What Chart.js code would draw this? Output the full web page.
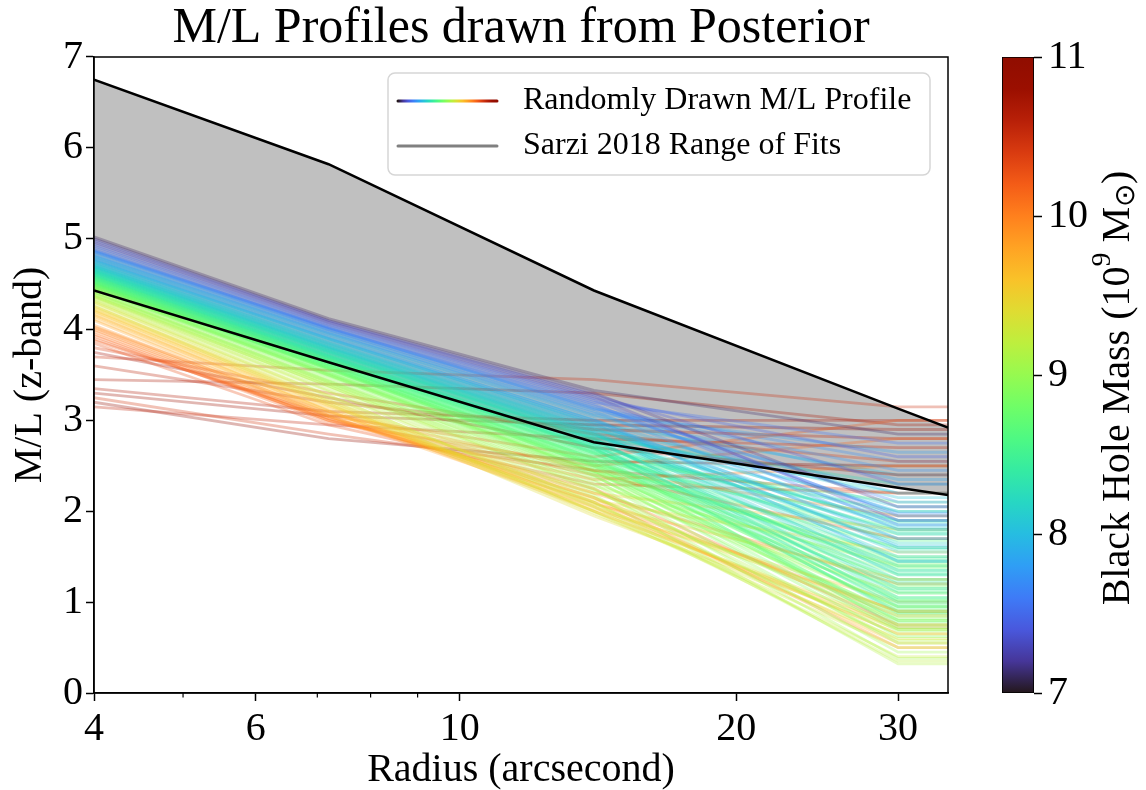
<!DOCTYPE html>
<html>
<head>
<meta charset="utf-8">
<script src="https://cdn.jsdelivr.net/npm/chart.js@4.4.0/dist/chart.umd.min.js"></script>
<style>
  html, body { margin: 0; padding: 0; background: #fff; }
  #wrap { position: relative; width: 1146px; height: 790px; }
  #mainBox { position: absolute; left: 0; top: 0; width: 960px; height: 790px; }
  #barBox { position: absolute; left: 960px; top: 0; width: 186px; height: 790px; }
</style>
</head>
<body>
<div id="wrap">
  <div id="mainBox"><canvas id="mlChart"></canvas></div>
  <div id="barBox"><canvas id="cbarChart"></canvas></div>
</div>
<script>
// radii (arcsec) where every profile is sampled
const radii = [4, 7.2, 14, 30, 34];

// Sarzi 2018 range of fits
const sarziUpper = [6.75, 5.82, 4.43, 3.13, 2.92];
const sarziLower = [4.43, 3.64, 2.76, 2.26, 2.18];

// posterior draws: black hole mass (1e9 Msun) and M/L at 4", 7.2", 14", 30"
// (profiles are flat outside 30")
const drawMass = [
  7.10, 7.20, 7.30, 7.40, 7.45, 7.50, 7.55, 7.60,
  7.65, 7.70, 7.75, 7.80, 7.80, 7.85, 7.90, 7.90, 7.95, 8.00,
  8.05, 8.10, 8.10, 8.15, 8.15, 8.20, 8.20, 8.25, 8.25, 8.30, 8.30, 8.35, 8.35, 8.40,
  8.50, 8.50, 8.55, 8.60, 8.60, 8.65, 8.65, 8.70, 8.70, 8.75, 8.75, 8.80, 8.80, 8.85, 8.90, 8.90,
  9.00, 9.00, 9.05, 9.05, 9.10, 9.10, 9.15, 9.20, 9.20, 9.25, 9.30, 9.30, 9.35, 9.40,
  9.50, 9.50, 9.55, 9.60, 9.60, 9.65, 9.70, 9.70, 9.75, 9.80,
  9.90, 9.95, 10.00, 10.00, 10.05, 10.10, 10.15, 10.20, 10.25, 10.30,
  10.40, 10.45, 10.50, 10.55, 10.60, 10.65, 10.70, 10.75, 10.80, 10.90,
  7.85, 7.95, 8.00, 8.05, 8.10, 8.15, 8.20, 8.25, 8.30, 8.35,
  8.40, 8.45, 8.45, 8.50, 8.55, 8.60, 8.65, 8.70, 8.75, 8.80,
  8.85, 8.90, 8.95, 8.95, 8.20, 8.40, 8.60, 8.80, 8.00, 8.30,
  8.50, 8.70, 8.90, 7.70, 8.10, 8.55, 8.75, 9.05, 9.15, 8.45
];
const mlAt4 = [
  5.02, 5.00, 4.96, 4.98, 4.94, 4.92, 4.90, 4.88,
  4.87, 4.85, 4.86, 4.82, 4.83, 4.78, 4.80, 4.79, 4.76, 4.74,
  4.72, 4.70, 4.71, 4.68, 4.69, 4.66, 4.67, 4.65, 4.66, 4.63, 4.64, 4.62, 4.61, 4.60,
  4.58, 4.57, 4.56, 4.55, 4.54, 4.53, 4.53, 4.52, 4.51, 4.50, 4.50, 4.48, 4.49, 4.46, 4.45, 4.44,
  4.42, 4.41, 4.40, 4.39, 4.38, 4.37, 4.36, 4.34, 4.35, 4.32, 4.30, 4.31, 4.28, 4.26,
  4.24, 4.25, 4.22, 4.20, 4.21, 4.18, 4.15, 4.16, 4.12, 4.10,
  4.05, 4.02, 4.00, 4.03, 3.98, 3.95, 3.93, 3.90, 3.88, 3.85,
  3.80, 3.25, 3.70, 3.15, 3.60, 3.35, 3.45, 3.75, 3.30, 3.20,
  4.81, 4.77, 4.75, 4.73, 4.69, 4.70, 4.68, 4.64, 4.65, 4.63,
  4.61, 4.60, 4.59, 4.58, 4.57, 4.55, 4.54, 4.52, 4.51, 4.49,
  4.47, 4.46, 4.44, 4.45, 4.67, 4.62, 4.56, 4.50, 4.76, 4.64,
  4.59, 4.53, 4.47, 4.86, 4.72, 4.56, 4.50, 4.41, 4.37, 4.60
];
const mlAt7 = [
  4.12, 4.10, 4.08, 4.09, 4.06, 4.05, 4.03, 4.02,
  4.01, 4.00, 4.00, 3.97, 3.98, 3.92, 3.95, 3.94, 3.90, 3.88,
  3.85, 3.82, 3.84, 3.80, 3.81, 3.78, 3.79, 3.76, 3.77, 3.74, 3.75, 3.72, 3.71, 3.70,
  3.68, 3.67, 3.66, 3.64, 3.63, 3.62, 3.61, 3.60, 3.59, 3.58, 3.57, 3.55, 3.56, 3.52, 3.50, 3.49,
  3.45, 3.44, 3.42, 3.41, 3.40, 3.38, 3.36, 3.32, 3.33, 3.28, 3.25, 3.27, 3.22, 3.18,
  3.20, 3.22, 3.18, 3.15, 3.16, 3.12, 3.10, 3.11, 3.08, 3.05,
  3.05, 3.04, 3.02, 3.08, 3.00, 3.00, 2.98, 3.02, 3.05, 2.95,
  3.30, 2.85, 3.55, 2.95, 3.20, 3.10, 3.40, 3.25, 3.05, 2.80,
  3.96, 3.91, 3.89, 3.86, 3.81, 3.83, 3.80, 3.75, 3.77, 3.73,
  3.71, 3.70, 3.69, 3.67, 3.66, 3.64, 3.62, 3.60, 3.58, 3.56,
  3.53, 3.51, 3.48, 3.50, 3.79, 3.72, 3.65, 3.57, 3.90, 3.76,
  3.68, 3.61, 3.52, 4.02, 3.85, 3.65, 3.58, 3.43, 3.38, 3.70
];
const mlAt14 = [
  3.33, 3.30, 3.26, 3.28, 3.24, 3.22, 3.20, 3.18,
  3.16, 3.14, 3.12, 3.10, 3.08, 3.00, 3.05, 3.02, 2.98, 2.95,
  2.92, 2.88, 2.90, 2.85, 2.86, 2.82, 2.84, 2.80, 2.81, 2.76, 2.78, 2.74, 2.72, 2.70,
  2.68, 2.70, 2.65, 2.62, 2.60, 2.58, 2.57, 2.55, 2.54, 2.52, 2.50, 2.48, 2.50, 2.45, 2.42, 2.40,
  2.35, 2.38, 2.30, 2.28, 2.25, 2.22, 2.18, 2.10, 2.15, 2.05, 2.00, 2.08, 1.98, 1.95,
  2.00, 2.12, 2.05, 2.02, 2.20, 2.10, 2.08, 2.00, 2.15, 2.05,
  2.10, 2.15, 2.20, 2.45, 2.35, 2.25, 2.50, 2.40, 2.60, 2.30,
  2.85, 2.45, 3.45, 2.80, 2.90, 3.00, 3.30, 2.70, 2.95, 2.55,
  3.06, 3.00, 2.96, 2.93, 2.87, 2.89, 2.85, 2.79, 2.80, 2.75,
  2.73, 2.71, 2.69, 2.67, 2.66, 2.63, 2.59, 2.56, 2.53, 2.49,
  2.46, 2.43, 2.39, 2.44, 2.83, 2.74, 2.64, 2.51, 2.97, 2.79,
  2.69, 2.58, 2.44, 3.13, 2.91, 2.64, 2.52, 2.33, 2.24, 2.70
];
const mlAt30 = [
  2.85, 2.05, 1.90, 2.30, 2.60, 1.95, 2.75, 1.85,
  2.10, 1.98, 2.45, 1.80, 2.65, 1.70, 2.20, 1.45, 1.60, 1.90,
  1.75, 1.55, 2.05, 1.30, 1.50, 1.85, 1.65, 1.15, 2.30, 1.40, 1.25, 1.00, 1.10, 0.95,
  1.20, 1.80, 0.90, 1.35, 0.98, 0.80, 2.10, 1.05, 1.45, 1.60, 1.30, 0.85, 0.75, 0.70, 1.15, 0.62,
  0.55, 0.95, 0.45, 1.40, 0.38, 1.10, 0.32, 0.35, 0.80, 0.40, 0.50, 0.65, 0.60, 0.70,
  0.75, 1.55, 0.90, 1.00, 1.80, 0.55, 1.25, 0.72, 0.85, 0.65,
  0.90, 0.50, 1.20, 1.95, 2.50, 0.75, 2.80, 1.70, 3.00, 2.20,
  2.55, 2.20, 3.15, 2.70, 2.80, 3.00, 2.95, 2.40, 2.90, 2.50,
  2.35, 2.00, 1.62, 2.15, 1.35, 1.95, 1.45, 1.70, 1.05, 1.58,
  1.22, 1.90, 0.88, 1.48, 1.12, 1.68, 0.92, 1.38, 0.78, 1.02,
  1.25, 0.82, 0.68, 1.50, 2.20, 1.78, 2.00, 1.18, 2.40, 1.88,
  1.02, 1.75, 0.95, 2.55, 1.82, 0.72, 1.42, 0.88, 0.58, 1.32
];

// axis ticks
const xTicks = [4, 5, 6, 7, 8, 9, 10, 20, 30];
const xLabelled = [4, 6, 10, 20, 30];
const yTicks = [0, 1, 2, 3, 4, 5, 6, 7];
const cbarTicks = [7, 8, 9, 10, 11];

const SERIF = "'Liberation Serif', 'Times New Roman', serif";

// turbo colormap (polynomial fit)
function turbo(t) {
  t = Math.min(1, Math.max(0, t));
  const r = 0.13572138 + t * (4.61539260 + t * (-42.66032258 + t * (132.13108234 + t * (-152.94239396 + t * 59.28637943))));
  const g = 0.09140261 + t * (2.19418839 + t * (4.84296658 + t * (-14.18503333 + t * (4.27729857 + t * 2.82956604))));
  const b = 0.10667330 + t * (12.64194608 + t * (-60.58204836 + t * (110.36276771 + t * (-89.90310912 + t * 27.34824973))));
  const c = v => Math.round(255 * Math.min(1, Math.max(0, v)));
  return [c(r), c(g), c(b)];
}
const turboCss = (t, a) => {
  const [r, g, b] = turbo(t);
  return `rgba(${r},${g},${b},${a})`;
};
const massToT = m => (m - cbarTicks[0]) / (cbarTicks[cbarTicks.length - 1] - cbarTicks[0]);

function addTurboStops(grad) {
  for (let i = 0; i <= 20; i++) grad.addColorStop(i / 20, turboCss(i / 20, 1));
  return grad;
}

// ---------- main chart ----------
const profileSets = drawMass.map((m, i) => {
  const ml = [mlAt4[i], mlAt7[i], mlAt14[i], mlAt30[i], mlAt30[i]];
  return {
    data: radii.map((r, k) => ({ x: r, y: ml[k] })),
    borderColor: turboCss(massToT(m), 0.3),
    borderWidth: 2.8,
    pointRadius: 0,
    fill: false,
    order: 1
  };
});

const sarziSets = [
  {
    data: radii.map((r, k) => ({ x: r, y: sarziUpper[k] })),
    borderColor: '#000', borderWidth: 2.5, pointRadius: 0,
    fill: 1, backgroundColor: '#c0c0c0', order: 0
  },
  {
    data: radii.map((r, k) => ({ x: r, y: sarziLower[k] })),
    borderColor: '#000', borderWidth: 2.5, pointRadius: 0,
    fill: false, order: 0
  }
];

// box frame, minor ticks and legend
const framePlugin = {
  id: 'frame',
  afterDraw(chart) {
    const { ctx, chartArea: a, scales } = chart;
    ctx.save();
    ctx.strokeStyle = '#000';
    ctx.lineWidth = 1.5;
    ctx.strokeRect(a.left, a.top, a.right - a.left, a.bottom - a.top);

    // minor ticks on the log axis
    xTicks.filter(v => !xLabelled.includes(v)).forEach(v => {
      const px = scales.x.getPixelForValue(v);
      ctx.beginPath();
      ctx.moveTo(px, a.bottom);
      ctx.lineTo(px, a.bottom + 4.5);
      ctx.lineWidth = 1.2;
      ctx.stroke();
    });

    // legend
    const lx = a.right - 560, ly = a.top + 16, lw = 542, lh = 102;
    ctx.beginPath();
    ctx.roundRect(lx, ly, lw, lh, 7);
    ctx.fillStyle = 'rgba(255,255,255,0.8)';
    ctx.fill();
    ctx.strokeStyle = '#d6d6d6';
    ctx.lineWidth = 1.5;
    ctx.stroke();

    const rows = [
      { y: ly + 28, text: 'Randomly Drawn M/L Profile', grad: true },
      { y: ly + 73, text: 'Sarzi 2018 Range of Fits', grad: false }
    ];
    rows.forEach(row => {
      ctx.beginPath();
      ctx.moveTo(lx + 10, row.y);
      ctx.lineTo(lx + 109, row.y);
      ctx.lineWidth = 3;
      ctx.lineCap = 'round';
      ctx.strokeStyle = row.grad
        ? addTurboStops(ctx.createLinearGradient(lx + 10, 0, lx + 109, 0))
        : '#808080';
      ctx.stroke();
      ctx.fillStyle = '#000';
      ctx.font = `32px ${SERIF}`;
      ctx.textBaseline = 'middle';
      ctx.textAlign = 'left';
      ctx.fillText(row.text, lx + 135, row.y);
    });
    ctx.restore();
  }
};

new Chart(document.getElementById('mlChart'), {
  type: 'line',
  data: { datasets: [...sarziSets, ...profileSets] },
  options: {
    responsive: true,
    maintainAspectRatio: false,
    animation: false,
    layout: { padding: { left: 0, right: 12, top: 0, bottom: 0 } },
    plugins: {
      legend: { display: false },
      tooltip: { enabled: false },
      filler: { drawTime: 'beforeDatasetsDraw' },
      title: {
        display: true,
        fullSize: false,
        text: 'M/L Profiles drawn from Posterior',
        color: '#000',
        font: { family: SERIF, size: 50, weight: 'normal', lineHeight: 1.14 },
        padding: 0
      }
    },
    scales: {
      x: {
        type: 'logarithmic',
        min: 4,
        max: 34,
        afterBuildTicks: s => { s.ticks = xTicks.map(v => ({ value: v })); },
        afterFit: s => { s.height = 97; },
        ticks: {
          autoSkip: false,
          maxRotation: 0,
          padding: 4,
          color: '#000',
          font: { family: SERIF, size: 40 },
          callback: v => (xLabelled.includes(v) ? String(v) : '')
        },
        grid: {
          drawOnChartArea: false,
          tickLength: 8,
          tickWidth: 1.5,
          tickColor: c => (c.tick && xLabelled.includes(c.tick.value) ? '#000' : 'rgba(0,0,0,0)')
        },
        border: { color: '#000', width: 1.5 },
        title: {
          display: true,
          text: 'Radius (arcsecond)',
          color: '#000',
          font: { family: SERIF, size: 40, lineHeight: 1 },
          padding: 0
        }
      },
      y: {
        min: 0,
        max: 7,
        afterBuildTicks: s => { s.ticks = yTicks.map(v => ({ value: v })); },
        afterFit: s => { s.width = 94; },
        ticks: { padding: 3, color: '#000', font: { family: SERIF, size: 40 } },
        grid: { drawOnChartArea: false, tickLength: 8, tickWidth: 1.5, tickColor: '#000' },
        border: { color: '#000', width: 1.5 },
        title: {
          display: true,
          text: 'M/L (z-band)',
          color: '#000',
          font: { family: SERIF, size: 40, lineHeight: 1 },
          padding: { top: 10, bottom: 0 }
        }
      }
    }
  },
  plugins: [framePlugin]
});

// ---------- colour bar ----------
const cbarLabelPlugin = {
  id: 'cbarLabel',
  afterDraw(chart) {
    const { ctx, chartArea: a } = chart;
    const parts = [
      { t: 'Black Hole Mass (10', size: 40, dy: 0 },
      { t: '9', size: 28, dy: -15 },
      { t: ' M', size: 40, dy: 0 },
      { t: '\u2299', size: 28, dy: 9 },
      { t: ')', size: 40, dy: 0 }
    ];
    ctx.save();
    ctx.translate(a.right + 84, (a.top + a.bottom) / 2 + 13);
    ctx.rotate(-Math.PI / 2);
    ctx.fillStyle = '#000';
    ctx.textBaseline = 'middle';
    ctx.textAlign = 'left';
    let total = 0;
    parts.forEach(p => { ctx.font = `${p.size}px ${SERIF}`; p.w = ctx.measureText(p.t).width; total += p.w; });
    let x = -total / 2;
    parts.forEach(p => {
      ctx.font = `${p.size}px ${SERIF}`;
      ctx.fillText(p.t, x, p.dy);
      x += p.w;
    });
    ctx.restore();
  }
};

new Chart(document.getElementById('cbarChart'), {
  type: 'bar',
  data: {
    labels: ['mass'],
    datasets: [{
      data: [[cbarTicks[0], cbarTicks[cbarTicks.length - 1]]],
      backgroundColor: c => {
        const a = c.chart.chartArea;
        if (!a) return '#888';
        return addTurboStops(c.chart.ctx.createLinearGradient(0, a.bottom, 0, a.top));
      },
      borderColor: '#000',
      borderWidth: 1.2,
      borderSkipped: false,
      barPercentage: 1,
      categoryPercentage: 1
    }]
  },
  options: {
    responsive: true,
    maintainAspectRatio: false,
    animation: false,
    layout: { padding: { left: 42, right: 0, top: 57, bottom: 97 } },
    plugins: { legend: { display: false }, tooltip: { enabled: false } },
    scales: {
      x: { display: false },
      y: {
        position: 'right',
        min: cbarTicks[0],
        max: cbarTicks[cbarTicks.length - 1],
        afterBuildTicks: s => { s.ticks = cbarTicks.map(v => ({ value: v })); },
        afterFit: s => { s.width = 112; },
        ticks: { padding: 6, color: '#000', font: { family: SERIF, size: 40 } },
        grid: { drawOnChartArea: false, tickLength: 8, tickWidth: 1.5, tickColor: '#000' },
        border: { display: false }
      }
    }
  },
  plugins: [cbarLabelPlugin]
});
</script>
</body>
</html>
